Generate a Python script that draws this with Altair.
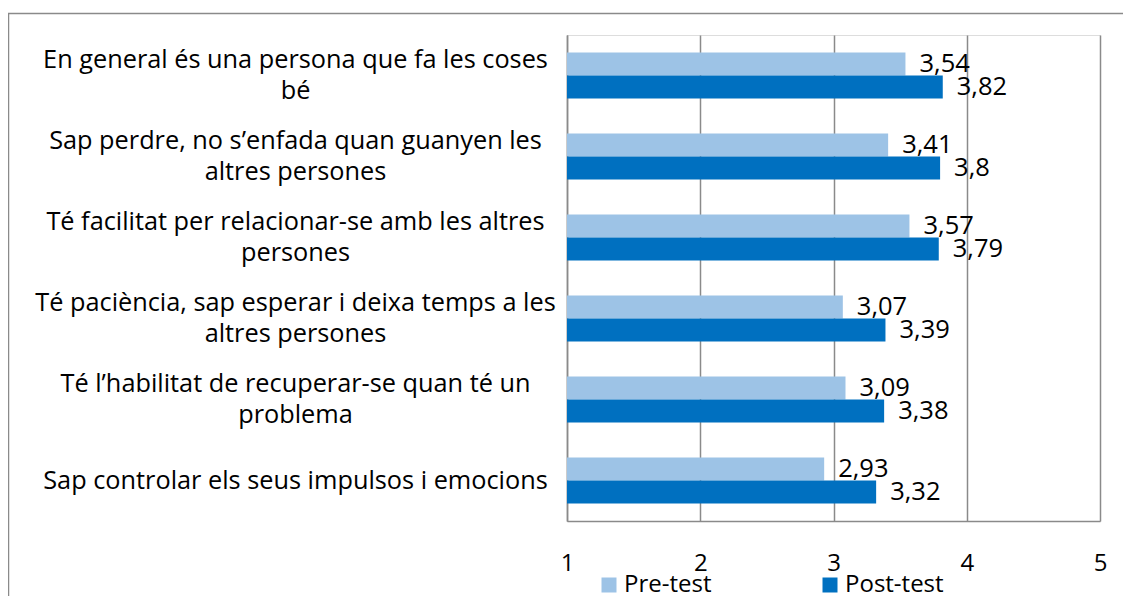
import altair as alt
import pandas as pd

categories = [
    "En general és una persona que fa les coses|bé",
    "Sap perdre, no s’enfada quan guanyen les|altres persones",
    "Té facilitat per relacionar-se amb les altres|persones",
    "Té paciència, sap esperar i deixa temps a les|altres persones",
    "Té l’habilitat de recuperar-se quan té un|problema",
    "Sap controlar els seus impulsos i emocions",
]
pre_test = [3.54, 3.41, 3.57, 3.07, 3.09, 2.93]
post_test = [3.82, 3.8, 3.79, 3.39, 3.38, 3.32]
series = ["Pre-test", "Post-test"]
x_ticks = [1, 2, 3, 4, 5]

rows = []
for c, a, b in zip(categories, pre_test, post_test):
    rows.append({"cat": c, "series": "Pre-test", "value": a, "lab": str(a).replace(".", ",")})
    rows.append({"cat": c, "series": "Post-test", "value": b, "lab": str(b).replace(".", ",")})
df = pd.DataFrame(rows)

FONT = "Open Sans"
FS = 24
FS_CAT = 25.3
GRID = "#8a8a8a"

y_enc = alt.Y(
    "cat:N",
    sort=categories,
    scale=alt.Scale(paddingInner=0.43, paddingOuter=0.215),
    axis=alt.Axis(
        title=None,
        ticks=False,
        tickSize=0,
        domainColor=GRID,
        domainWidth=1.5,
        labelAlign="center",
        labelBaseline="middle",
        labelPadding=272,
        labelExpr="split(datum.label, '|')",
        labelOffset={"condition": {"test": "indexof(datum.value, '|') >= 0", "value": -16}, "value": 0},
        labelLineHeight=31,
        labelFontSize=FS_CAT,
        labelFont=FONT,
        labelColor="black",
        labelLimit=0,
    ),
)
yoff = alt.YOffset("series:N", sort=series, scale=alt.Scale(paddingInner=0, paddingOuter=0))
x_enc = alt.X(
    "value:Q",
    scale=alt.Scale(domain=[1, 5], nice=False, zero=False),
    axis=alt.Axis(
        values=x_ticks,
        title=None,
        grid=True,
        gridColor=GRID,
        gridWidth=1.5,
        domainColor=GRID,
        domainWidth=1.5,
        ticks=False,
        tickSize=0,
        labelFlush=False,
        labelPadding=30,
        labelFontSize=FS,
        labelFont=FONT,
        labelColor="black",
        format="d",
    ),
)

base = alt.Chart(df)

bars = base.mark_bar().encode(
    y=y_enc,
    yOffset=yoff,
    x=x_enc,
    x2=alt.datum(1),
    color=alt.Color(
        "series:N",
        scale=alt.Scale(domain=series, range=["#9DC3E6", "#0070C0"]),
        legend=alt.Legend(
            title=None,
            orient="none",
            legendX=30,
            legendY=538,
            direction="horizontal",
            symbolType="square",
            symbolSize=225,
            symbolStrokeWidth=0,
            labelFontSize=FS,
            labelFont=FONT,
            labelColor="black",
            labelOffset=3,
            columnPadding=106,
        ),
    ),
)

labels = base.mark_text(align="left", baseline="middle", dx=14, fontSize=25.5, font=FONT, color="black").encode(
    y=alt.Y("cat:N", sort=categories),
    yOffset=yoff,
    x=alt.X("value:Q"),
    text="lab:N",
)

frame = alt.Chart(pd.DataFrame({"a": [0]})).mark_rect(
    fill=None, stroke=GRID, strokeWidth=1.5, clip=False
).encode(
    x=alt.value(-558.5), x2=alt.value(700), y=alt.value(-21.5), y2=alt.value(700)
)

chart = (
    alt.layer(frame, bars, labels)
    .properties(
        width=533,
        height=486,
        autosize=alt.AutoSizeParams(type="none"),
        padding={"left": 559, "top": 27, "right": 23, "bottom": 75},
    )
    .configure_view(stroke=None)
    .configure(background="white")
)

chart.save("out.html", embed_options={"renderer": "svg", "actions": False})
